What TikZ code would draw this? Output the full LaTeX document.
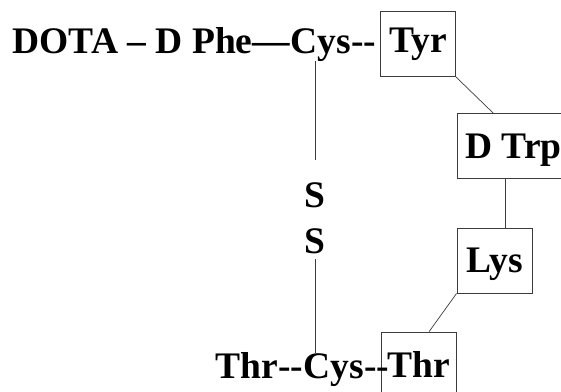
\documentclass[tikz,border=0pt]{standalone}
\usepackage{fontspec}
\setmainfont{Liberation Serif}
\usetikzlibrary{positioning,calc}
\definecolor{bondgray}{RGB}{60,60,60}
\newcommand{\pepfont}{\fontsize{37.5}{40}\selectfont\bfseries}

\begin{document}
\begin{tikzpicture}[x=1pt,y=-1pt,font=\pepfont,
  lbl/.style={inner sep=0pt,anchor=base west},
  res/.style={draw=bondgray,line width=0.9pt,inner sep=0pt,minimum width=75pt,minimum height=65pt},
  bond/.style={draw=bondgray,line width=0.7pt}]
  \useasboundingbox (0,0) rectangle (561,391);
  \clip (0,0) rectangle (561,391);
  % linear part
  \node[lbl] (head) at (12.5,53) {DOTA – D Phe—};
  \node[lbl] (cysA) at (head.base east) {Cys};
  \node[lbl] (ddA) at (cysA.base east) {-{}-};
  % ring residues
  \node[res] (tyr) at (418,44) {Tyr};
  \node[res,text depth=0pt,anchor=west,minimum width=0pt,inner xsep=8pt] (dtrp) at (457,146) {D Trp};
  \node[res,text depth=0pt] (lys) at (494.5,260.5) {Lys};
  \node[res,text depth=0pt] (thrB) at (418.5,364.5) {Thr};
  \node[lbl] (thrA) at (215,378) {Thr};
  \node[lbl] (ddB) at (thrA.base east) {-{}-};
  \node[lbl] (cysB) at (ddB.base east) {Cys};
  \node[lbl] (ddC) at (cysB.base east) {-{}-};
  % disulfide
  \node[inner sep=0pt] (s1) at (315,195) {S};
  \node[inner sep=0pt] (s2) at (315,241) {S};
  \draw[bond,shorten >=22pt] (cysA.south -| s1) -- (s1.north);
  \draw[bond,shorten <=5pt] (s2.south) -- (cysB.north -| s2);
  \coordinate (lt) at ($(lys.north west)!0.64!(lys.north east)$);
  \draw[bond] (tyr.south east) -- ($(dtrp.north west)!0.32!(dtrp.north east)$);
  \draw[bond] (lt |- dtrp.south) -- (lt);
  \draw[bond] (lys.south west) -- ($(thrB.north west)!0.64!(thrB.north east)$);
\end{tikzpicture}
\end{document}
